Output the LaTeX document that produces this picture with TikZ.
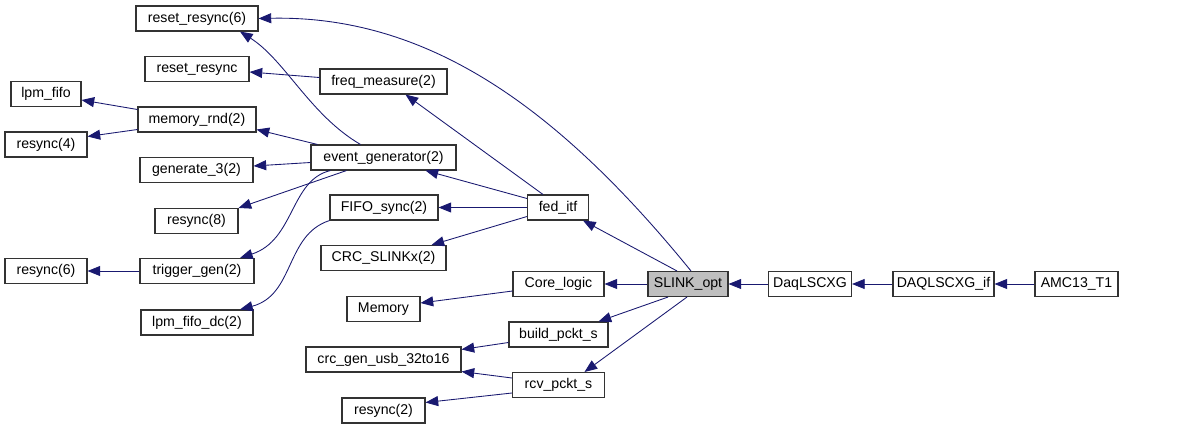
\documentclass[tikz,border=0pt]{standalone}
\usepackage{fontspec}
\setmainfont{Liberation Sans}
\usepackage{tikz}
\usetikzlibrary{arrows.meta, calc}

\definecolor{edgeblue}{HTML}{191970}
\definecolor{hlgray}{HTML}{BFBFBF}

\begin{document}
\begin{tikzpicture}[x=0.75pt, y=-0.75pt,
    fn/.style={draw=black!80, line width=0.8pt, inner sep=0pt, minimum height=18.75pt, font=\fontsize{10.6}{12}\selectfont},
    wd/.style={minimum width=#1*0.75pt},
    call/.style={draw=edgeblue, line width=0.65pt, -{Triangle[length=9.5pt, width=7.5pt]}}]
    \useasboundingbox (0,0) rectangle (1200,429);

    % Leftmost column
    \node[fn, wd=70]  (lpmfifo) at (46,94)    {lpm\_fifo};
    \node[fn, wd=82]  (rsfour)  at (46,144.5) {resync(4)};
    \node[fn, wd=82]  (rssix)   at (46,271)   {resync(6)};

    % Second column
    \node[fn, wd=122] (rrsix)   at (197,18.5)  {reset\_resync(6)};
    \node[fn, wd=104] (rr)      at (197,69)    {reset\_resync};
    \node[fn, wd=118] (memrnd)  at (197,119.5) {memory\_rnd(2)};
    \node[fn, wd=113] (genthree) at (196.5,170) {generate\_3(2)};
    \node[fn, wd=83]  (rseight) at (196.5,221) {resync(8)};
    \node[fn, wd=114] (trig)    at (197,271)   {trigger\_gen(2)};
    \node[fn, wd=112] (lpmdc)   at (197,322.5) {lpm\_fifo\_dc(2)};

    % Third column
    \node[fn, wd=127] (freq)    at (383.5,81.5)  {freq\_measure(2)};
    \node[fn, wd=145] (evgen)   at (383.5,157.5) {event\_generator(2)};
    \node[fn, wd=108] (fifo)    at (384,207.5)   {FIFO\_sync(2)};
    \node[fn, wd=125] (crc)     at (383.5,258)   {CRC\_SLINKx(2)};
    \node[fn, wd=73]  (mem)     at (383.5,309)   {Memory};
    \node[fn, wd=155] (crcgen)  at (383.5,359.5) {crc\_gen\_usb\_32to16};
    \node[fn, wd=83]  (rstwo)   at (383.5,410.5) {resync(2)};

    % Fourth column
    \node[fn, wd=61]  (fed)     at (558,207.5)   {fed\_itf};
    \node[fn, wd=91]  (core)    at (558.5,284)   {Core\_logic};
    \node[fn, wd=99]  (build)   at (558.5,334.5) {build\_pckt\_s};
    \node[fn, wd=92]  (rcv)     at (558.5,385)   {rcv\_pckt\_s};

    % Callers on the right
    \node[fn, wd=80, fill=hlgray] (slink) at (688,284) {SLINK\_opt};
    \node[fn, wd=83]  (daq)     at (810,284)     {DaqLSCXG};
    \node[fn, wd=101] (daqif)   at (943.5,284)   {DAQLSCXG\_if};
    \node[fn, wd=83]  (amc)     at (1076.5,284)  {AMC13\_T1};

    % Calls from the top level
    \draw[call] (amc.west) -- (daqif.east);
    \draw[call] (daqif.west) -- (daq.east);
    \draw[call] (daq.west) -- (slink.east);

    % Calls of SLINK_opt
    \draw[call] ($(slink.north)+(3,0)$) .. controls (560,110) and (430,15) .. (rrsix.east);
    \draw[call] ($(slink.north)+(-11,0)$) -- ($(fed.south east)+(-6,0)$);
    \draw[call] (slink.west) -- (core.east);
    \draw[call] ($(slink.south)+(-20,0)$) -- ($(build.north east)+(-10,0)$);
    \draw[call] ($(slink.south)+(-1,0)$) -- ($(rcv.north)+(26,0)$);

    % Calls of fed_itf
    \draw[call] ($(fed.north)+(-15,0)$) -- ($(freq.south)+(22,0)$);
    \draw[call] ($(fed.west)+(0,-9)$) -- ($(evgen.south)+(42,0)$);
    \draw[call] (fed.west) -- (fifo.east);
    \draw[call] ($(fed.west)+(0,9)$) -- ($(crc.north)+(48,0)$);

    % Calls of freq_measure and event_generator
    \draw[call] ($(freq.west)+(0,-4)$) -- ($(rr.east)+(0,3)$);
    \draw[call] ($(evgen.north)+(-23,0)$) .. controls (310,115) and (285,60) .. ($(rrsix.south)+(43,0)$);
    \draw[call] ($(evgen.north west)+(7,0)$) -- ($(memrnd.east)+(0,10)$);
    \draw[call] ($(evgen.west)+(0,5)$) -- ($(genthree.east)+(0,-4)$);
    \draw[call] ($(evgen.south)+(-37,0)$) -- (rseight.north east);
    \draw[call] ($(evgen.south)+(-53,0)$) .. controls (290,180) and (295,240) .. ($(trig.north)+(43,0)$);

    % Calls of memory_rnd, trigger_gen and FIFO_sync
    \draw[call] ($(memrnd.west)+(0,-10)$) -- ($(lpmfifo.east)+(0,6)$);
    \draw[call] ($(memrnd.west)+(0,10)$) -- ($(rsfour.east)+(0,-8)$);
    \draw[call] (trig.west) -- (rssix.east);
    \draw[call] (fifo.south west) .. controls (285,235) and (295,295) .. ($(lpmdc.north)+(43,0)$);

    % Calls of Core_logic, build_pckt_s and rcv_pckt_s
    \draw[call] ($(core.west)+(0,7)$) -- ($(mem.east)+(0,-6)$);
    \draw[call] ($(build.west)+(0,8)$) -- ($(crcgen.north east)+(0,3)$);
    \draw[call] ($(rcv.west)+(0,-7)$) -- ($(crcgen.south east)+(0,-1)$);
    \draw[call] ($(rcv.west)+(0,8)$) -- ($(rstwo.east)+(0,-8)$);
\end{tikzpicture}
\end{document}
